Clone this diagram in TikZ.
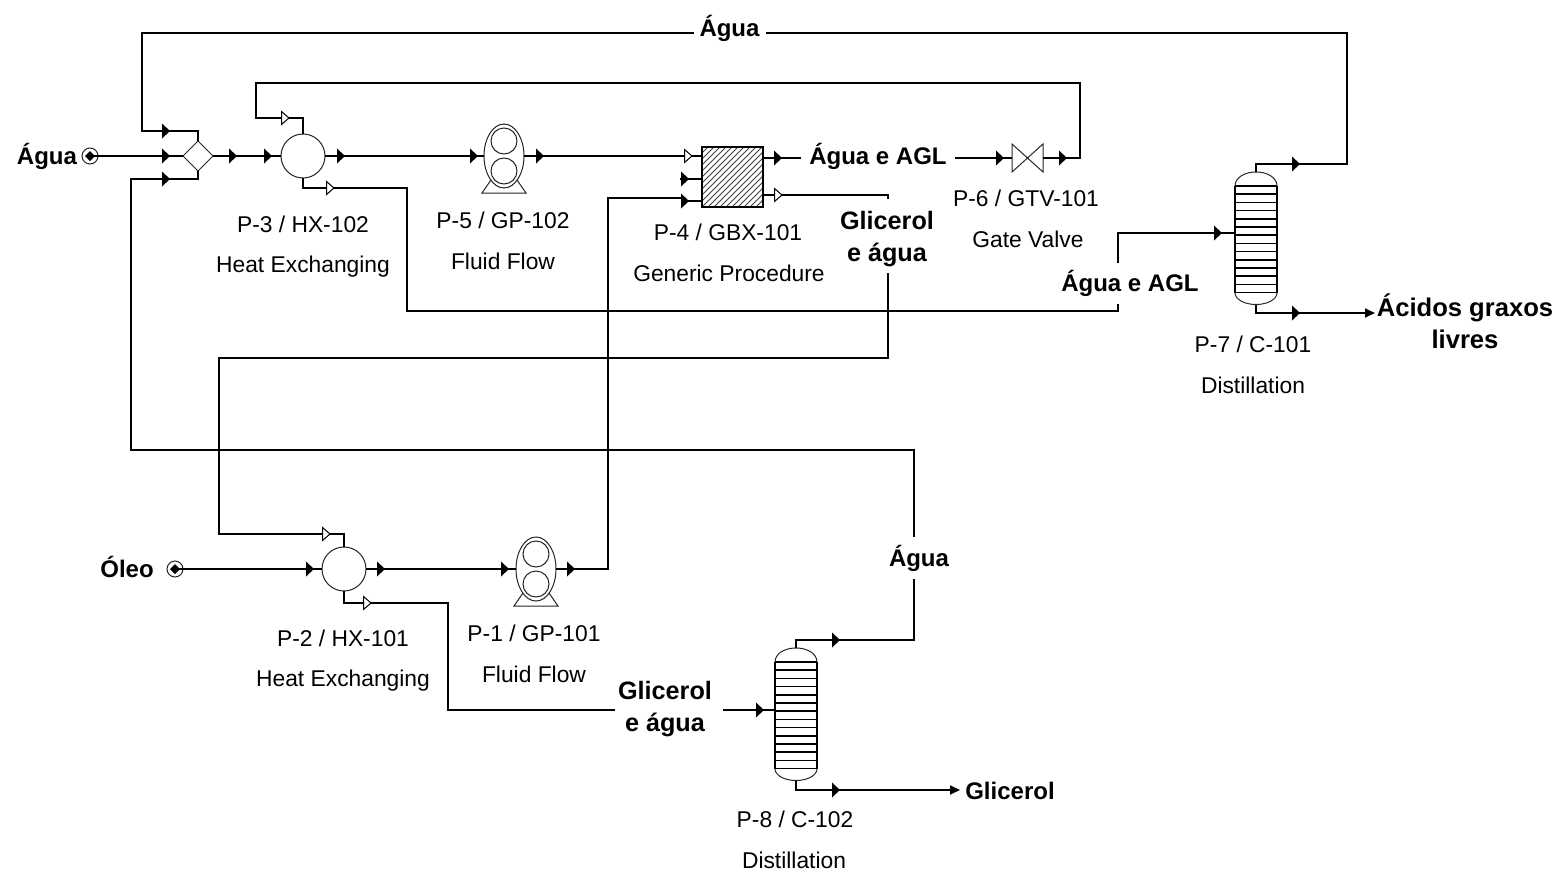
\documentclass[tikz,border=0pt]{standalone}
\usepackage{fontspec}
\setmainfont{Liberation Sans}
\usetikzlibrary{shapes.geometric,arrows.meta,patterns}
\tikzset{
  flow/.style={draw=black,line width=0.85pt},
  unitline/.style={draw=black!85,line width=0.5pt},
  trayline/.style={draw=black,line width=0.75pt},
  lab/.style={font=\fontsize{11.4}{14}\selectfont,inner sep=0pt},
  stream/.style={font=\fontsize{12}{16}\selectfont\bfseries,inner sep=0pt,align=center},
  streamwide/.style={font=\fontsize{12.6}{16}\selectfont\bfseries,inner sep=0pt,align=center},
  gap/.style={stream,fill=white},
  hx/.style={unitline,circle,minimum size=22pt,inner sep=0pt,outer sep=0pt,fill=white},
  tipf/.pic={\fill[black] (-4,-7.5) -- (4,0) -- (-4,7.5) -- cycle;},
  tipo/.pic={\draw[black,line width=0.5pt,fill=white] (-3.5,-6.5) -- (4,0) -- (-3.5,6.5) -- cycle;},
  pumpunit/.pic={
    \draw[unitline,fill=white] (-22,37) -- (22,37) -- (13,24) -- (-13,24) -- cycle;
    \node[unitline,ellipse,minimum width=20pt,minimum height=32pt,inner sep=0pt,outer sep=0pt,fill=white] (-b) at (0,0) {};
    \draw[unitline] (0,-15) circle[radius=13];
    \draw[unitline] (0,15) circle[radius=13];
  },
  columnunit/.pic={
    \node[minimum width=21pt,minimum height=66.5pt,inner sep=0pt,outer sep=0pt] (-b) at (0,0) {};
    \draw[unitline] (-21,-52) .. controls (-21,-60) and (-12,-66) .. (0,-66) .. controls (12,-66) and (21,-60) .. (21,-52);
    \draw[unitline] (-21,55) .. controls (-21,61) and (-12,66.5) .. (0,66.5) .. controls (12,66.5) and (21,61) .. (21,55);
    \draw[trayline] (-21,-52) -- (-21,55);
    \draw[trayline] (21,-52) -- (21,55);
    \foreach \k in {0,...,13} \draw[trayline] (-21,{-52+\k*8.2}) -- (21,{-52+\k*8.2});
  },
  portunit/.pic={
    \node[unitline,circle,minimum size=8pt,inner sep=0pt,outer sep=0pt] (-b) at (0,0) {};
    \fill[black] (-5,0) -- (0,-5) -- (5,0) -- (0,5) -- cycle;
  },
}
\begin{document}
\begin{tikzpicture}[x=0.5pt,y=-0.5pt]
\useasboundingbox (0,0) rectangle (1560,873);
% units
\node[unitline,diamond,minimum size=15pt,inner sep=0pt,outer sep=0pt] (mix) at (198,156) {};
\node[hx] (hx3) at (303,156) {};
\node[hx] (hx2) at (344,569) {};
\pic (p5) at (504,156) {pumpunit};
\pic (p1) at (536,569) {pumpunit};
\node[draw=black,line width=0.8pt,pattern=north east lines,pattern color=black!75,minimum width=30.5pt,minimum height=30pt,inner sep=0pt,outer sep=0pt] (gbx) at (732.5,177) {};
\node[minimum width=15.5pt,minimum height=14pt,inner sep=0pt,outer sep=0pt] (gtv) at (1027.5,158) {};
\draw[unitline] (gtv.north west) -- (gtv.south west) -- (gtv.north east) -- (gtv.south east) -- cycle;
\pic (c7) at (1256,238) {columnunit};
\pic (c8) at (796,714) {columnunit};
\pic (pa) at (90,156) {portunit};
\pic (po) at (175,569) {portunit};
% bends
\coordinate (a1) at (1256,164); \coordinate (a2) at (1347,164); \coordinate (a3) at (1347,33);
\coordinate (a4) at (142,33); \coordinate (a5) at (142,131); \coordinate (a6) at (198,131);
\coordinate (b1) at (796,640); \coordinate (b2) at (914,640); \coordinate (b3) at (914,450);
\coordinate (b4) at (131,450); \coordinate (b5) at (131,179); \coordinate (b6) at (198,179);
\coordinate (r1) at (1080,158); \coordinate (r2) at (1080,83); \coordinate (r3) at (256,83);
\coordinate (r4) at (256,118); \coordinate (r5) at (303,118);
\coordinate (h1) at (303,188); \coordinate (h2) at (407,188); \coordinate (h3) at (407,311);
\coordinate (h4) at (1118,311); \coordinate (h5) at (1118,233);
\coordinate (g1) at (888,195); \coordinate (g1b) at (888,199); \coordinate (g1c) at (888,273);
\coordinate (g2) at (888,358); \coordinate (g3) at (219,358);
\coordinate (g4) at (219,534); \coordinate (g5) at (344,534);
\coordinate (s1) at (608,569); \coordinate (s2) at (608,198); \coordinate (s3) at (683,198); \coordinate (s4) at (683,201);
\coordinate (k1) at (344,603); \coordinate (k2) at (448,603); \coordinate (k3) at (448,710);
\coordinate (k4) at (615,710); \coordinate (k5) at (723,710);
\coordinate (t0) at (680,179);
\coordinate (v1) at (1256,313); \coordinate (v2) at (1375,313);
\coordinate (w1) at (796,790); \coordinate (w2) at (960,790);
% connectors
\draw[flow] (c7-b.north) -- (a1) -- (a2) -- (a3) -- (a4) -- (a5) -- (a6) -- (mix.north);
\draw[flow] (pa-b.center) -- (mix.west);
\draw[flow] (c8-b.north) -- (b1) -- (b2) -- (b3) -- (b4) -- (b5) -- (b6) -- (mix.south);
\draw[flow] (mix.east) -- (hx3.west);
\draw[flow] (hx3.east) -- (p5-b.west);
\draw[flow] (p5-b.east) -- (gbx.west |- p5-b.east);
\draw[flow] (gbx.east |- gtv.west) -- (gtv.west);
\draw[flow] (gtv.east) -- (r1) -- (r2) -- (r3) -- (r4) -- (r5) -- (hx3.north);
\draw[flow] (hx3.south) -- (h1) -- (h2) -- (h3) -- (h4) -- (h5) -- (c7-b.west |- h5);
\draw[flow] (gbx.east |- g1) -- (g1) -- (g1b);
\draw[flow] (g1c) -- (g2) -- (g3) -- (g4) -- (g5) -- (hx2.north);
\draw[flow] (t0) -- (gbx.west |- t0);
\draw[flow] (p1-b.east) -- (s1) -- (s2) -- (s3) -- (s4) -- (gbx.west |- s4);
\draw[flow] (po-b.center) -- (hx2.west);
\draw[flow] (hx2.east) -- (p1-b.west);
\draw[flow] (hx2.south) -- (k1) -- (k2) -- (k3) -- (k4);
\draw[flow] (k5) -- (c8-b.west |- k5);
\draw[flow,-{Triangle[length=5pt,width=4.5pt]}] (c7-b.south) -- (v1) -- (v2);
\draw[flow,-{Triangle[length=5pt,width=4.5pt]}] (c8-b.south) -- (w1) -- (w2);
% tips
\foreach \p in {(166,131),(166,156),(166,179),(233,156),(268,156),(341,156),(474,156),(540,156),(778,158),(1000,158),(1063,158),(1296,164),(1218,233),(1296,313),(685,179),(685,201),(310,569),(381,569),(505,569),(571,569),(836,640),(760,710),(836,790)}
  \path \p pic {tipf};
\foreach \p in {(285,118),(330,188),(688,156),(778,195),(326,534),(367,603)}
  \path \p pic {tipo};
% stream labels on lines
\node[gap,inner xsep=3pt,inner ysep=3pt] (l1) at (729.5,28) {Água};
\node[gap,inner xsep=4pt,inner ysep=4pt] (l2) at (878,156) {Água e AGL};
\node[gap,minimum height=20.5pt] (l3) at (1130,283) {Água e AGL};
\node[streamwide] (l4) at (887,239) {Glicerol\\e água};
\node[streamwide] (l5) at (665,709) {Glicerol\\e água};
\node[gap,minimum height=21pt] (l6) at (919,558) {Água};
% free labels
\node[stream] (l7) at (47,156) {Água};
\node[stream] (l8) at (127,567) {Óleo};
\node[font=\fontsize{12.8}{16}\selectfont\bfseries,inner sep=0pt,align=center] (l9) at (1465,321) {Ácidos graxos\\livres};
\node[stream] (l10) at (1010,791) {Glicerol};
\node[lab] (n1) at (303,224) {P-3 / HX-102};
\node[lab] (n2) at (303,267) {Heat Exchanging};
\node[lab] (n3) at (503,220) {P-5 / GP-102};
\node[lab] (n4) at (503,261) {Fluid Flow};
\node[lab] (n5) at (728,232) {P-4 / GBX-101};
\node[lab] (n6) at (729,273) {Generic Procedure};
\node[lab] (n7) at (1026,198) {P-6 / GTV-101};
\node[lab] (n8) at (1028,239) {Gate Valve};
\node[lab] (n9) at (1253,344) {P-7 / C-101};
\node[lab] (n10) at (1253,385) {Distillation};
\node[lab] (n11) at (343,638) {P-2 / HX-101};
\node[lab] (n12) at (343,681) {Heat Exchanging};
\node[lab] (n13) at (534,633) {P-1 / GP-101};
\node[lab] (n14) at (534,674) {Fluid Flow};
\node[lab] (n15) at (795,819) {P-8 / C-102};
\node[lab] (n16) at (794,860) {Distillation};
\end{tikzpicture}
\end{document}
